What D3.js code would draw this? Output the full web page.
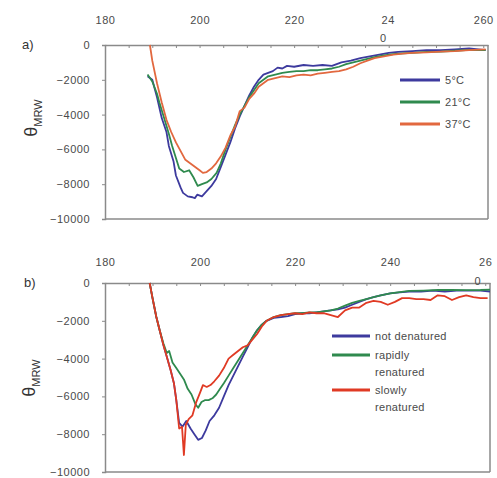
<!DOCTYPE html>
<html><head><meta charset="utf-8">
<script src="https://cdn.jsdelivr.net/npm/d3@7"></script>
<style>
body{margin:0;background:#fff;}
svg{display:block;font-family:"Liberation Sans",Arial,sans-serif;}
</style></head>
<body><svg id="c" width="497" height="478"></svg>
<script>
// ---------- tick labels ----------
const xTicks = [180, 200, 220, 240, 260];
const yTicks = [0, -2000, -4000, -6000, -8000, -10000];

// ---------- panel a ----------
const aLabels = ["5°C", "21°C", "37°C"];
const a5_w = [189, 190, 191, 192, 193, 193.5, 194.5, 195, 196, 196.5, 197.5, 198.5, 199, 199.5, 200.5, 201.5, 202.5, 203.5, 204.5, 205.5, 206.5, 207.5, 208.5, 209.5, 210.5, 211.5, 212.5, 213.5, 214.5, 215.5, 216.5, 217.5, 218.5, 220, 222, 224, 226, 228, 230, 232, 234, 236, 238, 240, 242, 245, 248, 251, 254, 257, 260.5];
const a5_v = [-1800, -2000, -3000, -4200, -5000, -5800, -6700, -7500, -8200, -8500, -8700, -8750, -8800, -8600, -8700, -8400, -8100, -7700, -7000, -6300, -5600, -4800, -4100, -3500, -2900, -2400, -2000, -1700, -1600, -1500, -1300, -1350, -1200, -1250, -1150, -1200, -1150, -1200, -1000, -900, -750, -650, -550, -450, -400, -350, -300, -300, -250, -200, -300];
const a21_w = [189, 190, 191, 191.5, 192.5, 193.5, 194.2, 195, 195.7, 196.7, 197.8, 198.7, 199.6, 200.5, 201.5, 202.5, 203.6, 204.5, 205.5, 206.5, 207.5, 208.5, 209.5, 210.5, 211.5, 212.5, 213.5, 214.5, 216, 217.5, 219, 220.5, 222, 223.5, 225, 226.5, 228, 229.5, 231, 232.5, 234, 235.5, 237, 239, 241, 243, 245, 248, 251, 254, 257, 260.5];
const a21_v = [-1700, -2100, -2800, -3300, -4200, -5100, -5800, -6500, -7100, -7300, -7200, -7600, -8100, -8000, -7900, -7700, -7350, -6800, -6000, -5300, -4600, -4000, -3500, -3000, -2600, -2200, -2000, -1800, -1700, -1600, -1550, -1500, -1500, -1450, -1450, -1400, -1350, -1250, -1100, -1000, -900, -800, -700, -600, -520, -480, -450, -400, -380, -330, -280, -300];
const a37_w = [189.5, 190, 191, 192, 193, 194, 195, 196, 197, 198, 199, 200, 200.7, 201.5, 202.5, 203.5, 204.5, 205.5, 206.5, 207.5, 208.5, 209.5, 210.5, 211.5, 212.5, 213.5, 214.5, 216, 217.5, 219, 220.5, 222, 223.5, 225, 226.5, 228, 229.5, 231, 232.5, 234, 235.5, 237, 239, 241, 243, 245, 248, 251, 254, 257, 260.5];
const a37_v = [0, -900, -2200, -3300, -4300, -5000, -5600, -6100, -6600, -6800, -7000, -7200, -7350, -7300, -7100, -6800, -6400, -5900, -5200, -4700, -3800, -3600, -3100, -2800, -2400, -2200, -2000, -1900, -1800, -1850, -1750, -1700, -1750, -1650, -1600, -1550, -1500, -1400, -1250, -1050, -900, -750, -650, -550, -500, -450, -420, -380, -350, -300, -250];

// ---------- panel b ----------
const bLabels = [["not denatured"], ["rapidly", "renatured"], ["slowly", "renatured"]];
const bNot_w = [189.4, 190, 190.8, 191.5, 192.3, 193, 193.8, 194.5, 195, 195.6, 196.3, 197.1, 198, 198.8, 199.6, 200.4, 201.2, 202, 203, 204, 205, 206, 207, 208, 209, 210, 211, 212, 213, 214, 215.5, 217, 218.5, 220, 221.5, 223, 224.5, 226, 227.5, 229, 230.5, 232, 233.5, 235, 236.5, 238, 240, 242, 244, 246.5, 249, 251.5, 254, 256.5, 259, 261];
const bNot_v = [0, -800, -1800, -2500, -3300, -3900, -4600, -5300, -6200, -7400, -7600, -7300, -7700, -8000, -8300, -8200, -7800, -7300, -7000, -6600, -6000, -5400, -4900, -4400, -3900, -3400, -2900, -2500, -2200, -2000, -1850, -1800, -1750, -1650, -1600, -1600, -1550, -1500, -1450, -1400, -1300, -1150, -1000, -850, -750, -650, -550, -500, -450, -450, -400, -450, -400, -400, -400, -450];
const bRap_w = [189.4, 190, 190.8, 191.5, 192.3, 193, 193.5, 194.2, 195, 195.8, 196.6, 197.4, 198.2, 199, 199.6, 200.3, 201, 201.8, 202.6, 203.4, 204.2, 205, 206, 207, 208, 209, 210, 211, 212, 213, 214, 215.5, 217, 218.5, 220, 221.5, 223, 224.5, 226, 227.5, 229, 230.5, 232, 233.5, 235, 236.5, 238, 240, 242, 244, 247, 250, 253, 256, 259, 261];
const bRap_v = [0, -800, -1800, -2500, -3200, -3700, -3600, -4200, -4500, -4800, -5100, -5600, -5900, -6400, -6600, -6300, -6200, -6200, -6100, -5900, -5600, -5300, -4900, -4500, -4100, -3700, -3300, -2900, -2500, -2200, -2000, -1800, -1700, -1650, -1600, -1600, -1550, -1550, -1500, -1450, -1350, -1200, -1050, -950, -850, -750, -650, -550, -480, -420, -400, -370, -370, -380, -370, -350];
const bSlow_w = [189.4, 190, 190.8, 191.5, 192.3, 193, 193.8, 194.5, 195, 195.6, 196.2, 196.6, 197, 197.6, 198.4, 199.2, 200, 200.6, 201.4, 202.2, 203, 204, 205, 206, 207, 208, 209, 210, 211, 212, 213, 214, 215.5, 217, 218.5, 220, 221.5, 223, 224.5, 226, 227.5, 229, 230.5, 232, 233.5, 235, 236.5, 238, 239.5, 241, 242.5, 244, 245.5, 247, 248.5, 250, 251.5, 253, 254.5, 256, 257.5, 259, 260.5];
const bSlow_v = [0, -800, -1800, -2500, -3300, -3900, -4600, -5300, -6200, -7700, -7600, -9100, -7500, -7200, -7000, -6300, -5800, -5400, -5500, -5400, -5200, -4900, -4500, -4000, -3800, -3600, -3400, -3300, -3000, -2700, -2300, -2000, -1800, -1700, -1650, -1600, -1650, -1550, -1600, -1600, -1700, -1800, -1450, -1300, -1300, -1050, -950, -1000, -1150, -1000, -800, -800, -850, -850, -900, -650, -700, -900, -750, -650, -750, -800, -800];

const colBlue = "#3d3a9e", colGreen = "#2f8a4e", colOrange = "#e2683f", colRed = "#e03a24";

const svg = d3.select("#c");
const textCol = "#4a4a4a";

function panel(cfg) {
  const x = d3.scaleLinear().domain([180, 261]).range([cfg.left, cfg.right]);
  const y = d3.scaleLinear().domain([-10000, 0]).range([cfg.bottom, cfg.top]);
  const g = svg.append("g");

  // frame: right & bottom
  g.append("line").attr("x1", cfg.right).attr("x2", cfg.right).attr("y1", cfg.top).attr("y2", cfg.bottom)
    .attr("stroke", "#8a8a8a").attr("stroke-width", 1.5);
  g.append("line").attr("x1", cfg.left).attr("x2", cfg.right).attr("y1", cfg.bottom).attr("y2", cfg.bottom)
    .attr("stroke", "#8a8a8a").attr("stroke-width", 1.5);

  // minor ticks on top axis (inward)
  const minor = g.append("g").attr("transform", `translate(0,${cfg.top})`)
    .call(d3.axisBottom(x).tickValues(d3.range(180, 261, 5)).tickSize(3).tickFormat(""));
  minor.select(".domain").remove();
  minor.selectAll("line").attr("stroke", "#8a8a8a");

  // top axis labels
  const xa = g.append("g").attr("transform", `translate(0,${cfg.top})`)
    .call(d3.axisTop(x).tickValues(xTicks).tickSize(0).tickPadding(cfg.xPad));
  xa.select(".domain").attr("stroke", "#8a8a8a").attr("stroke-width", 1.5);
  xa.selectAll("text").attr("fill", textCol).attr("font-size", 11).attr("letter-spacing", 0.5);
  // wrapped label
  xa.selectAll(".tick").filter(d => d === cfg.wrapVal).select("text").each(function(d) {
    const t = d3.select(this);
    const s = String(d);
    t.text(null);
    t.append("tspan").attr("x", 0).attr("dx", cfg.wrapDx1).text(s.slice(0, 2));
    t.append("tspan").attr("x", 0).attr("dx", cfg.wrapDx2).attr("dy", cfg.wrapDy).text(s.slice(2));
  });

  // left axis
  const ya = g.append("g").attr("transform", `translate(${cfg.left},0)`)
    .call(d3.axisLeft(y).tickValues(yTicks).tickSize(3).tickPadding(12).tickFormat(d3.format("d")));
  ya.select(".domain").attr("stroke", "#8a8a8a").attr("stroke-width", 1.5);
  ya.selectAll("line").attr("stroke", "#8a8a8a");
  ya.selectAll("text").attr("fill", textCol).attr("font-size", 11).attr("letter-spacing", 0.5);

  // panel letter
  g.append("text").attr("x", cfg.letterX).attr("y", cfg.top + 4).attr("font-size", 13)
    .attr("fill", "#333").text(cfg.letter);

  // axis title θ_MRW
  const tt = g.append("text").attr("transform", `translate(${cfg.titleX},${cfg.titleY}) rotate(-90)`)
    .attr("text-anchor", "middle").attr("fill", "#333");
  tt.append("tspan").attr("font-size", 18).text("θ");
  tt.append("tspan").attr("font-size", 11).attr("dy", 5).text("MRW");

  const line = d3.line().x(d => x(d[0])).y(d => y(d[1]));
  cfg.series.forEach(s => {
    const pts = s.w.map((w, i) => [w, s.v[i]]);
    g.append("path").datum(pts).attr("d", line).attr("fill", "none")
      .attr("stroke", s.color).attr("stroke-width", 1.8).attr("stroke-linejoin", "round");
  });

  // legend
  cfg.legend.forEach((L, i) => {
    g.append("line").attr("x1", cfg.legX1).attr("x2", cfg.legX2).attr("y1", L.y).attr("y2", L.y)
      .attr("stroke", cfg.series[i].color).attr("stroke-width", 3);
    const t = g.append("text").attr("x", cfg.legX2 + 5).attr("y", L.y + 4).attr("font-size", 11)
      .attr("fill", textCol).attr("letter-spacing", 0.3);
    L.lines.forEach((s, j) => t.append("tspan").attr("x", cfg.legX2 + 5).attr("dy", j ? 17 : 0).text(s));
  });
}

panel({
  left: 105, right: 488, top: 45, bottom: 219, xPad: 21,
  wrapVal: 240, wrapDx1: -1, wrapDx2: -6, wrapDy: 18,
  letter: "a)", letterX: 22, titleX: 37, titleY: 118,
  series: [
    {w: a5_w, v: a5_v, color: colBlue},
    {w: a21_w, v: a21_v, color: colGreen},
    {w: a37_w, v: a37_v, color: colOrange}
  ],
  legX1: 400, legX2: 440,
  legend: [{y: 80, lines: [aLabels[0]]}, {y: 102, lines: [aLabels[1]]}, {y: 124, lines: [aLabels[2]]}]
});

panel({
  left: 105, right: 490, top: 283, bottom: 472, xPad: 17,
  wrapVal: 260, wrapDx1: 0, wrapDx2: -8, wrapDy: 19,
  letter: "b)", letterX: 24, titleX: 35, titleY: 378,
  series: [
    {w: bNot_w, v: bNot_v, color: colBlue},
    {w: bRap_w, v: bRap_v, color: colGreen},
    {w: bSlow_w, v: bSlow_v, color: colRed}
  ],
  legX1: 332, legX2: 370,
  legend: [{y: 336, lines: bLabels[0]}, {y: 355, lines: bLabels[1]}, {y: 390, lines: bLabels[2]}]
});
</script></body></html>
